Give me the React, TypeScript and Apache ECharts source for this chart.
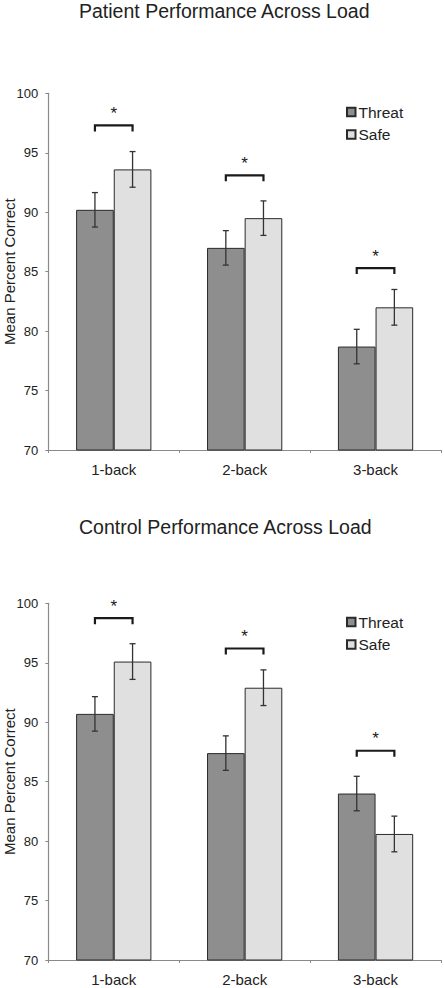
import React, { useEffect, useRef } from "react";
import * as echarts from "echarts";

const categories = ["1-back", "2-back", "3-back"];
const seriesNames = ["Threat", "Safe"];
const titles = ["Patient Performance Across Load", "Control Performance Across Load"];
const yTicks = { min: 70, max: 100, interval: 5 };

const patientThreat = [90.2, 87.0, 78.7];
const patientSafe = [93.6, 89.5, 82.0];
const patientThreatErr = [1.45, 1.45, 1.45];
const patientSafeErr = [1.5, 1.45, 1.5];
const patientBracket = [97.3, 93.1, 85.3];

const controlThreat = [90.7, 87.4, 84.0];
const controlSafe = [95.1, 92.9, 80.6];
const controlThreatErr = [1.45, 1.45, 1.45];
const controlSafeErr = [1.5, 1.5, 1.5];
const controlBracket = [98.75, 96.2, 87.6];

const CAT_GAP = 0.425;
const TEXT = "#222";
const AXIS = "#8a8a8a";
const DARK = "#2a2a2a";

function errRender(side: number) {
  return (params: any, api: any) => {
    const cat = api.value(0);
    const v = api.value(1);
    const e = api.value(2);
    const c = api.coord([cat, v]);
    const band = api.size([1, 0])[0];
    const bw = (band * (1 - CAT_GAP)) / 2;
    const x = c[0] + (side === 0 ? -bw / 2 : bw / 2);
    const top = api.coord([cat, v + e])[1];
    const bot = api.coord([cat, v - e])[1];
    const st = { stroke: "#333", lineWidth: 1.3 };
    return {
      type: "group",
      children: [
        { type: "line", shape: { x1: x, y1: top, x2: x, y2: bot }, style: st },
        { type: "line", shape: { x1: x - 3, y1: top, x2: x + 3, y2: top }, style: st },
        { type: "line", shape: { x1: x - 3, y1: bot, x2: x + 3, y2: bot }, style: st },
      ],
    };
  };
}

function bracketRender(params: any, api: any) {
  const cat = api.value(0);
  const lv = api.value(1);
  const c = api.coord([cat, lv]);
  const band = api.size([1, 0])[0];
  const bw = (band * (1 - CAT_GAP)) / 2;
  const x1 = c[0] - bw / 2;
  const x2 = c[0] + bw / 2;
  const y = c[1];
  return {
    type: "group",
    children: [
      {
        type: "polyline",
        shape: { points: [[x1, y + 6], [x1, y], [x2, y], [x2, y + 6]] },
        style: { stroke: "#1a1a1a", lineWidth: 2.2, fill: "none" },
      },
      {
        type: "text",
        x: c[0],
        y: y - 12,
        style: {
          text: "*",
          fontSize: 17,
          fontFamily: "Liberation Sans, Arial, sans-serif",
          fill: "#1a1a1a",
          align: "center",
          verticalAlign: "middle",
        },
      },
    ],
  };
}

export default function App() {
  const ref = useRef<HTMLDivElement>(null);
  useEffect(() => {
    if (!ref.current) return;
    const chart = echarts.init(ref.current, undefined, { renderer: "svg" });
    const font = "Liberation Sans, Arial, sans-serif";
    const gridTops = [93.3, 603.3];
    const data = [
      { t: patientThreat, s: patientSafe, te: patientThreatErr, se: patientSafeErr, b: patientBracket },
      { t: controlThreat, s: controlSafe, te: controlThreatErr, se: controlSafeErr, b: controlBracket },
    ];
    const series: any[] = [];
    data.forEach((d, i) => {
      series.push({
        type: "bar",
        name: seriesNames[0],
        xAxisIndex: i,
        yAxisIndex: i,
        data: d.t,
        barGap: "0%",
        barCategoryGap: CAT_GAP * 100 + "%",
        itemStyle: { color: "#8e8e8e", borderColor: DARK, borderWidth: 1 },
      });
      series.push({
        type: "bar",
        name: seriesNames[1],
        xAxisIndex: i,
        yAxisIndex: i,
        data: d.s,
        barGap: "0%",
        barCategoryGap: CAT_GAP * 100 + "%",
        itemStyle: { color: "#e0e0e0", borderColor: DARK, borderWidth: 1 },
      });
      series.push({
        type: "custom",
        name: "errT" + i,
        xAxisIndex: i,
        yAxisIndex: i,
        renderItem: errRender(0),
        encode: { x: 0, y: 1 },
        data: d.t.map((v, k) => [k, v, d.te[k]]),
        z: 5,
      });
      series.push({
        type: "custom",
        name: "errS" + i,
        xAxisIndex: i,
        yAxisIndex: i,
        renderItem: errRender(1),
        encode: { x: 0, y: 1 },
        data: d.s.map((v, k) => [k, v, d.se[k]]),
        z: 5,
      });
      series.push({
        type: "custom",
        name: "br" + i,
        xAxisIndex: i,
        yAxisIndex: i,
        renderItem: bracketRender,
        encode: { x: 0, y: 1 },
        data: d.b.map((v, k) => [k, v]),
        clip: false,
        z: 5,
      });
    });

    chart.setOption({
      animation: false,
      backgroundColor: "#fff",
      textStyle: { fontFamily: font },
      title: titles.map((t, i) => ({
        text: t,
        left: 79,
        top: i === 0 ? 1 : 517,
        padding: 0,
        textStyle: { fontSize: 19.5, fontWeight: "normal", color: TEXT, fontFamily: font },
      })),
      legend: [0, 1].map((i) => ({
        data: seriesNames,
        orient: "vertical",
        left: 346,
        top: i === 0 ? 104 : 614,
        itemWidth: 8.5,
        itemHeight: 8.5,
        itemGap: 6.6,
        icon: "rect",
        selectedMode: false,
        padding: 0,
        textStyle: { fontSize: 15.5, color: TEXT, fontFamily: font, lineHeight: 15, padding: [0, 0, 0, -2] },
      })),
      grid: gridTops.map((top) => ({
        left: 48.3,
        top,
        width: 392.7,
        height: 356.7,
        containLabel: false,
        outerBoundsMode: "none",
      })),
      xAxis: [0, 1].map((i) => ({
        type: "category",
        gridIndex: i,
        data: categories,
        axisLine: { lineStyle: { color: AXIS, width: 1.2 } },
        axisTick: { show: true, length: 3, lineStyle: { color: AXIS } },
        axisLabel: { fontSize: 15, color: TEXT, margin: 12, fontFamily: font },
      })),
      yAxis: [0, 1].map((i) => ({
        type: "value",
        gridIndex: i,
        min: yTicks.min,
        max: yTicks.max,
        interval: yTicks.interval,
        name: "Mean Percent Correct",
        nameLocation: "middle",
        nameRotate: 90,
        nameGap: 31,
        nameMoveOverlap: false,
        nameTextStyle: { fontSize: 15, color: TEXT, fontFamily: font },
        axisLine: { show: true, lineStyle: { color: AXIS, width: 1.2 } },
        axisTick: { show: true, length: 3, lineStyle: { color: AXIS } },
        axisLabel: { fontSize: 13, color: TEXT, margin: 10, fontFamily: font },
        splitLine: { show: false },
      })),
      series,
    });
    return () => chart.dispose();
  }, []);
  return (
    <div
      ref={ref}
      style={{ position: "fixed", left: 0, top: 0, width: 444, height: 988, background: "#fff" }}
    />
  );
}
